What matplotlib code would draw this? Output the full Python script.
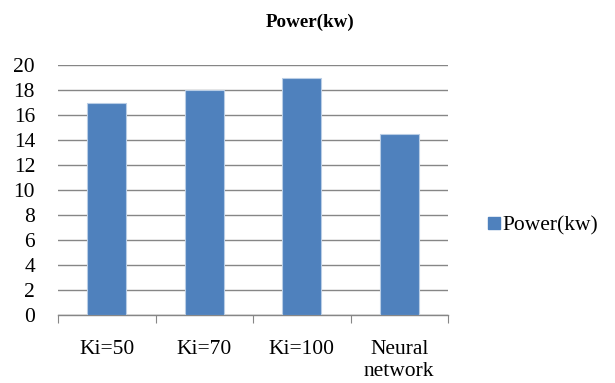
import matplotlib
matplotlib.use("Agg")
import matplotlib.pyplot as plt
from matplotlib.patches import Patch

categories = ["Ki=50", "Ki=70", "Ki=100", "Neural\nnetwork"]
values = [17, 18, 19, 14.5]
yticks = list(range(0, 21, 2))
series_name = "Power(kw)"

plt.rcParams['font.family'] = ['Liberation Serif', 'DejaVu Serif']

fig = plt.figure(figsize=(6.15, 3.83), dpi=100)
ax = fig.add_axes([58/615, 1-315/383, 390/615, 250/383])

x = list(range(len(categories)))
ax.bar(x, values, width=0.4, color="#4F81BD", edgecolor="#B9CDE5", linewidth=0.8, zorder=3)
ax.set_xlim(-0.5, len(categories)-0.5)
ax.set_ylim(0, 20)
ax.set_yticks(yticks)
ax.set_yticklabels([str(t) for t in yticks], fontsize=15.5)
ax.yaxis.grid(True, color="#868686", linewidth=1.0, zorder=0)
ax.tick_params(axis='y', length=0, pad=16.5)

ax.set_xticks([i - 0.5 for i in range(len(categories)+1)], minor=False)
ax.set_xticklabels([""]*(len(categories)+1))
ax.tick_params(axis='x', which='major', length=6, color="#868686", direction='out')
ax.set_xticks(x, minor=True)
ax.set_xticklabels(categories, minor=True, fontsize=15.5, linespacing=1.2, va='top')
ax.tick_params(axis='x', which='minor', length=0, pad=18)

for s in ['top', 'right', 'left']:
    ax.spines[s].set_visible(False)
ax.spines['bottom'].set_color("#868686")
ax.spines['bottom'].set_linewidth(1.0)

fig.text(310/615, 1-22/383, "Power(kw)", ha='center', va='center', fontsize=13.7, fontweight='bold')

handle = Patch(facecolor="#4F81BD", edgecolor="#4F81BD")
fig.legend([handle], [series_name], loc='center left', bbox_to_anchor=(488/615, 1-226/383),
           frameon=False, fontsize=15.5, handlelength=0.55, handleheight=0.55, handletextpad=0.12,
           borderaxespad=0, borderpad=0)

fig.savefig("out.png", dpi=100)
